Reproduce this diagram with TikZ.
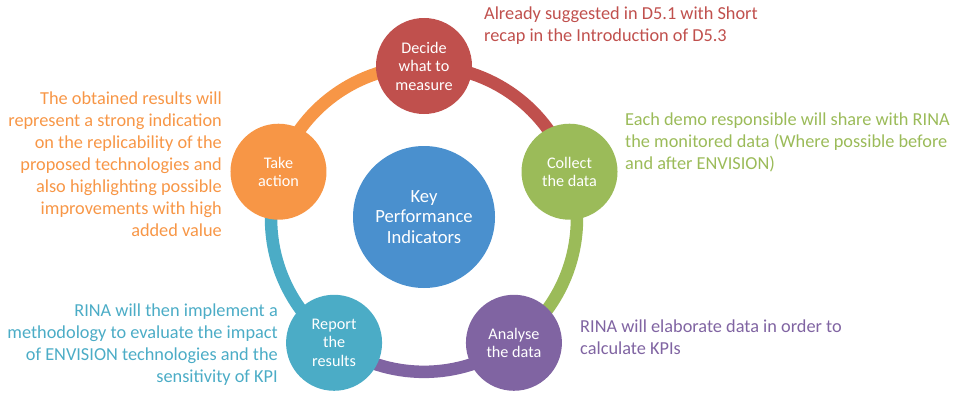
\documentclass[tikz,border=0pt]{standalone}
\usepackage{fontspec}
\setmainfont{Carlito}
\usetikzlibrary{backgrounds}
\definecolor{cred}{RGB}{192,80,77}
\definecolor{cgreen}{RGB}{155,187,89}
\definecolor{cpurple}{RGB}{128,100,162}
\definecolor{cteal}{RGB}{75,172,198}
\definecolor{corange}{RGB}{247,150,70}
\definecolor{cblue}{RGB}{74,144,206}
\begin{document}
\begin{tikzpicture}[x=1pt,y=1pt,
  stage/.style={circle,minimum size=96pt,inner sep=0pt,text=white,align=center,
    font=\fontsize{16.2}{18.5}\selectfont},
  hub/.style={circle,minimum size=142pt,inner sep=0pt,fill=cblue,text=white,align=center,
    font=\fontsize{18.6}{20.5}\selectfont},
  note/.style={inner sep=0pt,font=\fontsize{18.3}{22}\selectfont},
  band/.style={line width=12.5pt,bend left=36,looseness=0.94}
]
\useasboundingbox (0,0) rectangle (963,392);
\coordinate (ctr) at (424,173);
\node[hub] (kpi) at (424,175) {Key\\Performance\\Indicators};
\node[stage,fill=cred] (dec) at ([shift={(90:153)}]ctr) {Decide\\what to\\measure};
\node[stage,fill=cgreen] (col) at ([shift={(18:153)}]ctr) {Collect\\the data};
\node[stage,fill=cpurple] (ana) at ([shift={(-54:153)}]ctr) {Analyse\\the data};
\node[stage,fill=cteal] (rep) at ([shift={(-126:153)}]ctr) {Report\\the\\results};
\node[stage,fill=corange] (tak) at ([shift={(162:153)}]ctr) {Take\\action};
\begin{scope}[on background layer]
\draw[band,cred] (dec.center) to (col.center);
\draw[band,cgreen] (col.center) to (ana.center);
\draw[band,cpurple] (ana.center) to (rep.center);
\draw[band,cteal] (rep.center) to (tak.center);
\draw[band,corange] (tak.center) to (dec.center);
\end{scope}
\node[note,text=cred,anchor=north west,align=left] (n1) at (484,387)
  {\rule{0pt}{14pt}Already suggested in D5.1 with Short\\recap in the Introduction of D5.3};
\node[note,text=cgreen,anchor=north west,align=left] (n2) at (625,281)
  {\rule{0pt}{14pt}Each demo responsible will share with RINA\\the monitored data (Where possible before\\and after ENVISION)};
\node[note,text=cpurple,anchor=north west,align=left] (n3) at (580,74)
  {\rule{0pt}{14pt}RINA will elaborate data in order to\\calculate KPIs};
\node[note,text=corange,anchor=north east,align=right] (n4) at (222,302)
  {\rule{0pt}{14pt}The obtained results will\\represent a strong indication\\on the replicability of the\\proposed technologies and\\also highlighting possible\\improvements with high\\added value};
\node[note,text=cteal,anchor=north east,align=right] (n5) at (278,90)
  {\rule{0pt}{14pt}RINA will then implement a\\methodology to evaluate the impact\\of ENVISION technologies and the\\sensitivity of KPI};
\end{tikzpicture}
\end{document}
